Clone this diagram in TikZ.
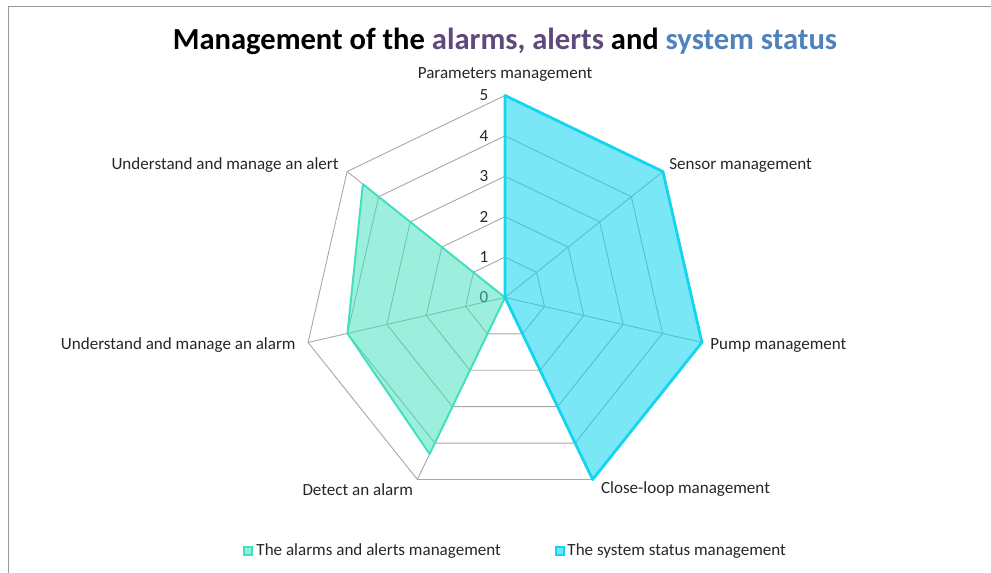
\documentclass[tikz,border=0pt]{standalone}
\usepackage{fontspec}
\setmainfont{Carlito}
\usepackage{xcolor}
\usepackage{tikz}
\usetikzlibrary{calc}
\definecolor{alarmGreen}{HTML}{40E0BC}
\definecolor{statusBlue}{HTML}{14D4F0}
\definecolor{gridGray}{HTML}{A6A6A6}
\definecolor{frameGray}{HTML}{999999}
\definecolor{titlePurple}{HTML}{5F497A}
\definecolor{titleBlue}{HTML}{4F81BD}
\definecolor{labelText}{HTML}{262626}

\begin{document}
\begin{tikzpicture}[x=0.02cm, y=0.02cm, every node/.style={inner sep=.25ex, text=labelText, font=\fontsize{9.7}{11}\selectfont}]
  \useasboundingbox (0,0) rectangle (991,573);
  % chart frame (runs off the right and bottom)
  \draw[frameGray, line width=1pt] (8.5,0) -- (8.5,566.5) -- (991,566.5);
  \node[font=\fontsize{17.4}{20}\selectfont\bfseries, text=black] (title) at (505,532)
    {Management of the \textcolor{titlePurple}{alarms, alerts} and \textcolor{titleBlue}{system status}};

  \begin{scope}[shift={(505,275.5)}]
    \coordinate (O) at (0,0);
    % rings and spokes
    \foreach \r in {1,...,5}
      \draw[gridGray, line width=.5pt] (90:\r*40.4) \foreach \k in {1,...,6}{ -- (90-\k*360/7:\r*40.4)} -- cycle;
    \foreach \k in {0,...,6} {
      \coordinate (v\k) at (90-\k*360/7:202);
      \draw[gridGray, line width=.5pt] (O) -- (v\k);
    }
    % scale
    \foreach \r in {0,...,5}
      \node (tick\r) at (-21,\r*40.4) {\r};

    % series values
    \foreach \v [count=\k from 0] in {0,0,0,0,4.3,4,4.5}
      \coordinate (g\k) at (90-\k*360/7:\v*40.4);
    \foreach \v [count=\k from 0] in {5,5,5,5,0,0,0}
      \coordinate (b\k) at (90-\k*360/7:\v*40.4);

    \filldraw[fill=alarmGreen, fill opacity=.52, draw=alarmGreen, line width=1.1pt, line join=round]
      (g0) -- (g1) -- (g2) -- (g3) -- (g4) -- (g5) -- (g6) -- cycle;
    \filldraw[fill=statusBlue, fill opacity=.57, draw=statusBlue, line width=1.6pt, line join=round]
      (b0) -- (b1) -- (b2) -- (b3) -- (b4) -- (b5) -- (b6) -- cycle;
  \end{scope}

  % axis names
  \node (lPar) at ($(v0)+(0,21)$) {Parameters management};
  \node[anchor=west] (lSen) at ($(v1)+(4,6)$) {Sensor management};
  \node[anchor=west] (lPump) at ($(v2)+(6,-3)$) {Pump management};
  \node[anchor=west] (lClose) at ($(v3)+(6,-10)$) {Close-loop management};
  \node[anchor=east] (lDet) at ($(v4)+(-2,-10)$) {Detect an alarm};
  \node[anchor=east] (lAlarm) at ($(v5)+(-10,-3)$) {Understand and manage an alarm};
  \node[anchor=east] (lAlert) at ($(v6)+(-6,6)$) {Understand and manage an alert};

  % legend
  \node[draw=alarmGreen, fill=alarmGreen!55, line width=.9pt, minimum size=4.4pt, inner sep=0pt] (kGreen) at (248,22) {};
  \node[anchor=west] (tGreen) at (254,22) {The alarms and alerts management};
  \node[draw=statusBlue, fill=statusBlue!60, line width=.9pt, minimum size=4.4pt, inner sep=0pt] (kBlue) at (560,22) {};
  \node[anchor=west] (tBlue) at (565,22) {The system status management};
\end{tikzpicture}
\end{document}
